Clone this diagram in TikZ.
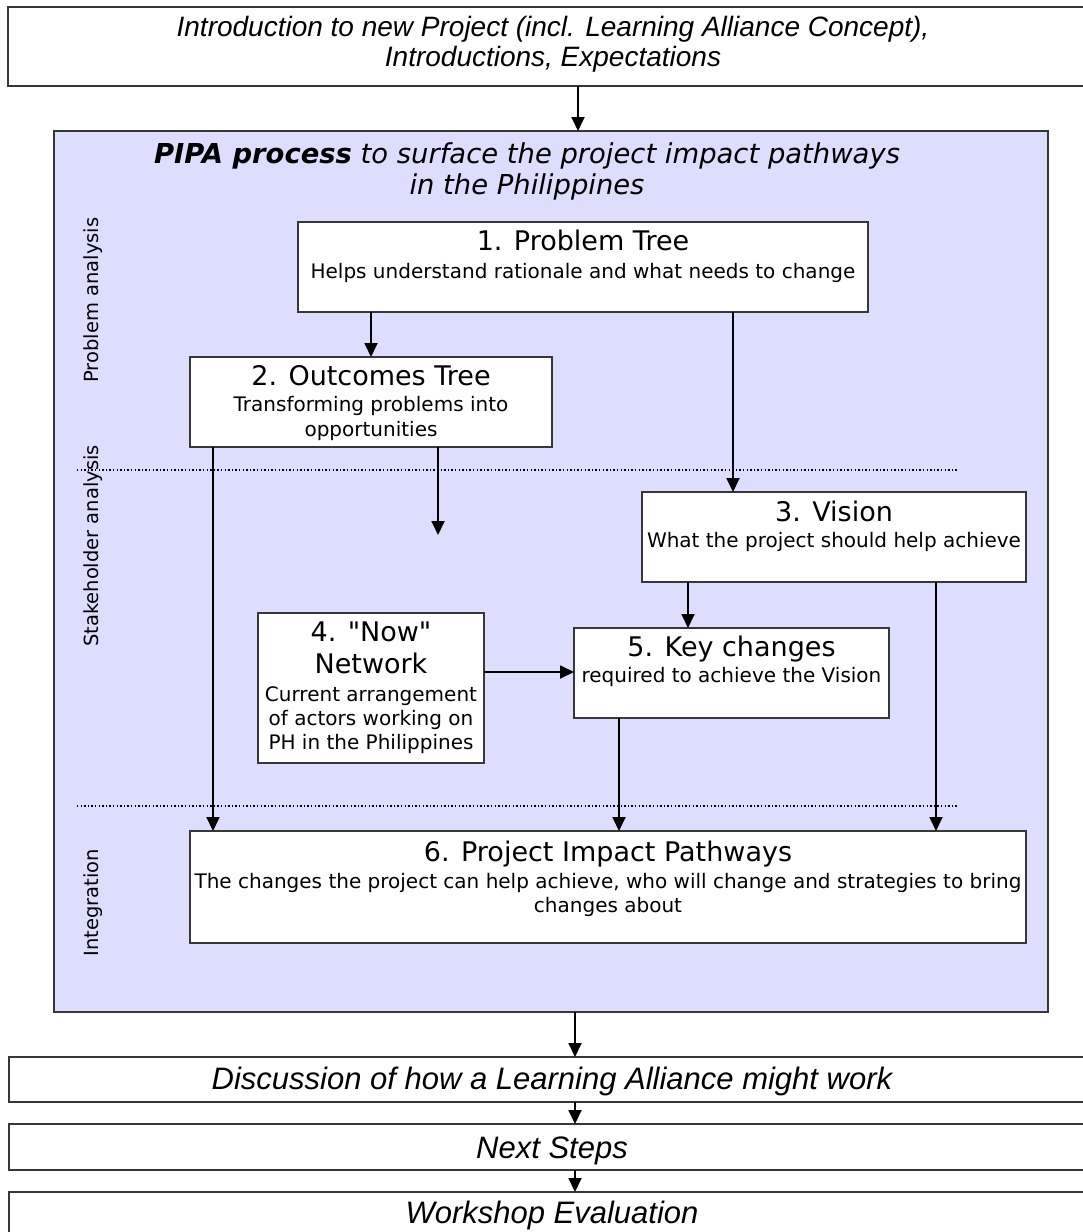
\documentclass[tikz,border=0pt]{standalone}
\usepackage{fontspec}
\setmainfont{DejaVu Sans}
\newfontfamily\plainf{DejaVu Sans}
\newfontfamily\arialf{Liberation Sans}
\usetikzlibrary{arrows.meta}
\definecolor{pipablue}{RGB}{221,221,255}
\definecolor{edgegray}{RGB}{55,55,55}
\begin{document}
\begin{tikzpicture}[x=1pt,y=-1pt,
  box/.style={draw=edgegray, line width=1.8pt, fill=white, inner sep=0pt, outer sep=0pt},
  arr/.style={-{Triangle[length=14pt,width=13pt]}, line width=1.8pt, black},
  sep/.style={line width=1.2pt, dash pattern=on 1.4pt off 2.2pt, black},
  ttl/.style={font=\fontsize{27}{32}\selectfont, anchor=base, inner sep=0pt},
  sub/.style={font=\fontsize{20}{24}\selectfont, anchor=base, inner sep=0pt},
  ital/.style={font=\arialf\itshape\fontsize{28}{30}\selectfont, anchor=base, inner sep=0pt},
  italb/.style={font=\arialf\itshape\fontsize{31}{33}\selectfont, anchor=base, inner sep=0pt},
  side/.style={font=\fontsize{19.5}{22}\selectfont, rotate=90, inner sep=0pt},
  ptitle/.style={font=\itshape\fontsize{27.4}{31}\selectfont, anchor=base, inner sep=0pt}]
\useasboundingbox (0,0) rectangle (1083,1232);

% outer boxes
\node[box, minimum width=1090pt, minimum height=79pt] (top) at (553,46.5) {};
\node[box, fill=pipablue, line width=1.6pt, minimum width=994pt, minimum height=881pt] (pipa) at (551,571.5) {};
\node[box, minimum width=1086pt, minimum height=45pt] (disc) at (552,1079.5) {};
\node[box, minimum width=1086pt, minimum height=46pt] (next) at (552,1147) {};
\node[box, minimum width=1086pt, minimum height=48pt] (evalb) at (552,1216) {};

% inner boxes
\node[box, minimum width=570pt, minimum height=90pt] (b1) at (583,267) {};
\node[box, minimum width=362pt, minimum height=90pt] (b2) at (371,402) {};
\node[box, minimum width=384pt, minimum height=90pt] (b3) at (834,537) {};
\node[box, minimum width=226pt, minimum height=150pt] (b4) at (371,688) {};
\node[box, minimum width=315pt, minimum height=90pt] (b5) at (731.5,673) {};
\node[box, minimum width=836pt, minimum height=112pt] (b6) at (608,887) {};

% separators
\draw[sep] (77,470) -- (957,470);
\draw[sep] (77,806) -- (957,806);

% texts
\node[ital] (ttop1) at (553,36.5) {Introduction to new Project (incl. Learning Alliance Concept),};
\node[ital] (ttop2) at (553,66.5) {Introductions, Expectations};
\node[ptitle] (pt1) at (527,163) {\textbf{PIPA process} to surface the project impact pathways};
\node[ptitle] (pt2) at (527,194) {in the Philippines};

\node[side] (lab1) at (93,300) {Problem analysis};
\node[side] (lab2) at (93,546) {Stakeholder analysis};
\node[side] (lab3) at (93,903) {Integration};

\node[ttl] (t1) at (583,250.5) {1. Problem Tree};
\node[sub] (s1) at (583,278.5) {Helps understand rationale and what needs to change};

\node[ttl] (t2) at (371,385) {2. Outcomes Tree};
\node[sub] (s2a) at (371,411) {Transforming problems into};
\node[sub] (s2b) at (371,436) {opportunities};

\node[ttl] (t3) at (834,521) {3. Vision};
\node[sub] (s3) at (834,547) {What the project should help achieve};

\node[ttl, font=\plainf\fontsize{27}{32}\selectfont] (t4a) at (371,641) {4. "Now"};
\node[ttl] (t4b) at (371,673) {Network};
\node[sub] (s4a) at (371,701) {Current arrangement};
\node[sub] (s4b) at (371,725) {of actors working on};
\node[sub] (s4c) at (371,749) {PH in the Philippines};

\node[ttl] (t5) at (731.5,656) {5. Key changes};
\node[sub] (s5) at (731.5,682) {required to achieve the Vision};

\node[ttl] (t6) at (608,861) {6. Project Impact Pathways};
\node[sub] (s6a) at (608,888) {The changes the project can help achieve, who will change and strategies to bring};
\node[sub] (s6b) at (608,912) {changes about};

\node[italb] (td) at (552,1089) {Discussion of how a Learning Alliance might work};
\node[italb] (tn) at (552,1158) {Next Steps};
\node[italb] (te) at (552,1223) {Workshop Evaluation};

% connector positions
\coordinate (xTop) at (578,0);
\coordinate (xB1r) at (733,0);
\coordinate (xB2l) at (213,0);
\coordinate (xB2r) at (438,0);
\coordinate (xB3l) at (688,0);
\coordinate (xB3r) at (936,0);
\coordinate (xB5) at (619,0);
\coordinate (xBot) at (575,0);
\coordinate (yB4) at (0,672);
\coordinate (loose) at (438,535);

% connectors
\draw[arr] (top.south -| xTop) -- (pipa.north -| xTop);
\draw[arr] (b1.south -| b2.north) -- (b2.north);
\draw[arr] (b1.south -| xB1r) -- (b3.north -| xB1r);
\draw[arr] (b2.south -| xB2l) -- (b6.north -| xB2l);
\draw[arr] (b2.south -| xB2r) -- (loose);
\draw[arr] (b3.south -| xB3l) -- (b5.north -| xB3l);
\draw[arr] (b3.south -| xB3r) -- (b6.north -| xB3r);
\draw[arr] (b4.east |- yB4) -- (b5.west |- yB4);
\draw[arr] (b5.south -| xB5) -- (b6.north -| xB5);
\draw[arr] (pipa.south -| xBot) -- (disc.north -| xBot);
\draw[arr] (disc.south -| xBot) -- (next.north -| xBot);
\draw[arr] (next.south -| xBot) -- (evalb.north -| xBot);
\end{tikzpicture}
\end{document}
